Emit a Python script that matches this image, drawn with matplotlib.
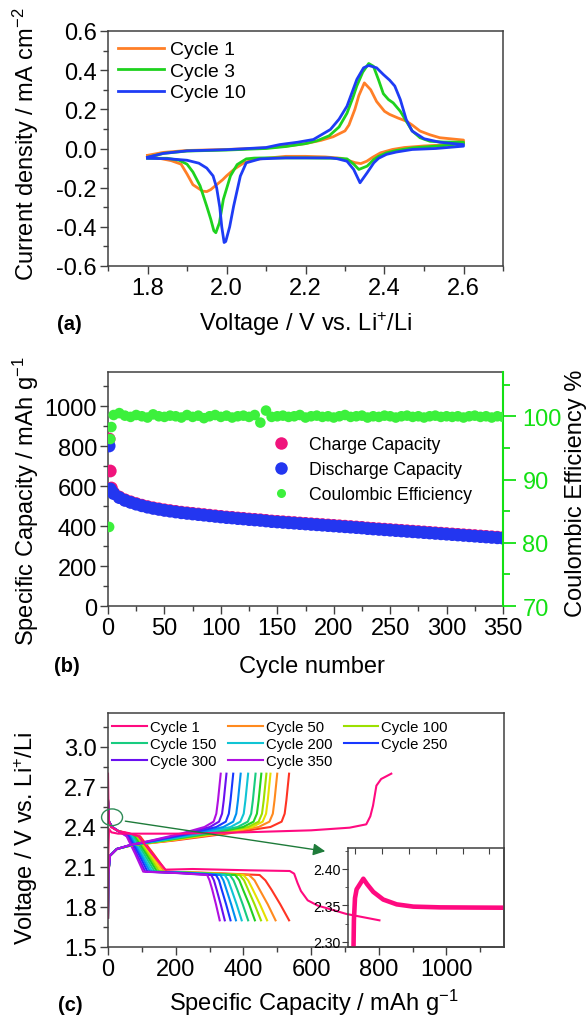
import matplotlib.pyplot as plt
import numpy as np
from matplotlib.patches import Ellipse
from matplotlib.lines import Line2D
from matplotlib.ticker import MultipleLocator

plt.rcParams['font.family'] = ['Liberation Sans', 'DejaVu Sans']
plt.rcParams['mathtext.fontset'] = 'custom'
plt.rcParams['mathtext.rm'] = 'Liberation Sans'
plt.rcParams['mathtext.it'] = 'Liberation Sans:italic'
plt.rcParams['mathtext.bf'] = 'Liberation Sans:bold'
plt.rcParams['axes.unicode_minus'] = False

# ---------------- (a) cyclic voltammetry ----------------
cv1_v = [1.80, 1.84, 1.90, 2.00, 2.10, 2.15, 2.20, 2.24, 2.27, 2.30, 2.31, 2.325, 2.335, 2.349, 2.365, 2.38,
         2.40, 2.413, 2.435, 2.455, 2.47, 2.49, 2.515, 2.54, 2.60,
         2.60, 2.55, 2.50, 2.45, 2.42, 2.39, 2.37, 2.355, 2.34, 2.325, 2.31, 2.29, 2.25, 2.20, 2.15, 2.10,
         2.07, 2.045, 2.02, 2.00, 1.99, 1.975, 1.96, 1.95, 1.94, 1.93, 1.915, 1.90, 1.885, 1.86, 1.83, 1.80]
cv1_i = [-0.035, -0.02, -0.01, -0.005, 0.003, 0.012, 0.025, 0.042, 0.06, 0.09, 0.12, 0.20, 0.27, 0.335, 0.30, 0.24,
         0.19, 0.174, 0.155, 0.14, 0.12, 0.089, 0.07, 0.055, 0.043,
         0.025, 0.018, 0.013, 0.005, -0.005, -0.022, -0.045, -0.065, -0.077, -0.072, -0.062, -0.05, -0.043, -0.04, -0.04, -0.05,
         -0.056, -0.072, -0.105, -0.14, -0.16, -0.185, -0.21, -0.22, -0.218, -0.205, -0.185, -0.13, -0.08, -0.062, -0.05, -0.04]

cv3_v = [1.80, 1.84, 1.90, 2.00, 2.10, 2.15, 2.20, 2.23, 2.26, 2.285, 2.305, 2.32, 2.33, 2.345, 2.36, 2.372, 2.385,
         2.397, 2.41, 2.422, 2.44, 2.455, 2.47, 2.49, 2.515, 2.55, 2.60,
         2.60, 2.55, 2.47, 2.43, 2.405, 2.385, 2.373, 2.356, 2.335, 2.322, 2.305, 2.28, 2.20, 2.10, 2.07, 2.05,
         2.027, 2.01, 1.992, 1.982, 1.973, 1.968, 1.96, 1.95, 1.933, 1.915, 1.90, 1.88, 1.85, 1.80]
cv3_i = [-0.045, -0.025, -0.013, -0.008, 0.0, 0.01, 0.025, 0.04, 0.065, 0.11, 0.18, 0.26, 0.32, 0.39, 0.434, 0.42, 0.35,
         0.28, 0.25, 0.233, 0.19, 0.14, 0.09, 0.055, 0.037, 0.033, 0.032,
         0.026, 0.015, 0.003, -0.01, -0.022, -0.04, -0.056, -0.09, -0.107, -0.08, -0.053, -0.05, -0.048, -0.048, -0.049, -0.053,
         -0.082, -0.14, -0.26, -0.38, -0.43, -0.42, -0.36, -0.295, -0.19, -0.12, -0.08, -0.06, -0.05, -0.05]

cv10_v = [1.80, 1.84, 1.90, 2.00, 2.10, 2.135, 2.18, 2.22, 2.263, 2.285, 2.305, 2.33, 2.347, 2.36, 2.38, 2.397,
          2.413, 2.426, 2.44, 2.455, 2.47, 2.50, 2.54, 2.60,
          2.60, 2.53, 2.47, 2.43, 2.405, 2.385, 2.373, 2.356, 2.338, 2.322, 2.305, 2.28, 2.263, 2.15, 2.085, 2.05,
          2.035, 2.018, 2.008, 1.998, 1.994, 1.988, 1.983, 1.975, 1.966, 1.95, 1.93, 1.90, 1.85, 1.80]
cv10_i = [-0.045, -0.025, -0.012, -0.006, 0.005, 0.02, 0.032, 0.046, 0.097, 0.15, 0.216, 0.353, 0.412, 0.424, 0.412, 0.378,
          0.349, 0.319, 0.25, 0.148, 0.089, 0.05, 0.032, 0.02,
          0.012, 0.0, -0.005, -0.018, -0.03, -0.05, -0.073, -0.124, -0.175, -0.107, -0.065, -0.052, -0.048, -0.048, -0.053, -0.073,
          -0.141, -0.295, -0.40, -0.475, -0.48, -0.40, -0.30, -0.20, -0.14, -0.10, -0.075, -0.06, -0.052, -0.05]

# ---------------- (b) cycling ----------------
cycles = [1, 2, 3] + list(range(5, 351, 5))
discharge = [800, 585, 575,
             562, 542, 528, 518, 509, 501, 494, 488, 483, 478, 474, 470, 466, 463, 460, 457, 454, 451, 448, 445,
             442, 440, 437, 435, 432, 430, 428, 425, 422, 420, 418, 416, 414, 412, 410, 408, 406, 404, 402, 400,
             398, 396, 394, 392, 390, 387, 385, 383, 381, 379, 377, 375, 373, 371, 369, 367, 365, 363, 361, 359,
             357, 355, 353, 351, 349, 347, 345, 343, 341, 339]
charge = [835, 675, 590,
          566, 545, 531, 521, 512, 504, 497, 491, 486, 481, 477, 473, 469, 466, 463, 460, 457, 454, 451, 448,
          445, 443, 440, 438, 435, 433, 431, 428, 425, 423, 421, 419, 417, 415, 413, 411, 409, 407, 405, 403,
          401, 399, 397, 395, 393, 390, 388, 386, 384, 382, 380, 378, 376, 374, 372, 370, 368, 366, 364, 362,
          360, 358, 356, 354, 352, 350, 348, 346, 344, 342]
efficiency = [82.5, 96.4, 98.3,
              100.2, 100.5, 100.1, 99.9, 100.2, 100.0, 99.8, 100.3, 100.0, 99.9,
              100.1, 100.0, 99.8, 100.2, 99.9, 100.1, 99.7, 100.0, 100.2, 99.9,
              100.1, 99.8, 100.0, 100.1, 99.9, 100.2, 99.0, 100.9, 99.9, 100.0,
              100.1, 99.9, 100.0, 100.2, 99.8, 100.0, 100.1, 99.9, 100.0, 99.8,
              100.0, 100.2, 99.9, 100.0, 100.1, 99.8, 100.0, 99.9, 100.1, 100.0,
              99.8, 100.0, 100.1, 99.9, 100.0, 99.8, 100.0, 100.1, 99.9, 100.0,
              99.9, 100.0, 99.8, 100.0, 100.1, 99.9, 100.0, 99.8, 100.0, 99.9]

# ---------------- (c) charge / discharge profiles ----------------
chg_v = [1.72, 2.05, 2.185, 2.235, 2.265, 2.30, 2.35, 2.40, 2.44, 2.50, 2.60, 2.80]
chg_q = [[0, 1, 6, 26, 65, 130, 215, 285, 312, 320, 325, 333],
         [0, 1, 6, 26, 66, 135, 226, 301, 328, 337, 342, 350],
         [0, 1, 6, 26, 67, 140, 240, 320, 348, 357, 362, 370],
         [0, 1, 6, 26, 68, 147, 255, 341, 370, 379, 384, 392],
         [0, 1, 6, 26, 69, 154, 270, 362, 391, 401, 406, 414],
         [0, 1, 6, 26, 70, 161, 285, 383, 413, 423, 428, 436],
         [0, 1, 6, 26, 71, 168, 298, 399, 430, 440, 445, 453],
         [0, 1, 6, 26, 72, 175, 310, 414, 445, 455, 460, 468],
         [0, 1, 6, 26, 73, 182, 320, 426, 457, 467, 472, 480],
         [0, 1, 6, 26, 74, 190, 333, 445, 477, 487, 492, 500],
         [0, 1, 6, 26, 75, 200, 350, 480, 513, 522, 527, 535]]
dis_v = [2.60, 2.44, 2.40, 2.37, 2.33, 2.20, 2.065, 2.055, 2.04, 2.00, 1.93, 1.82, 1.70]
dis_q = [[0, 3, 12, 30, 55, 80, 104, 200, 293, 300, 308, 319, 330],
         [0, 3, 12, 30, 58, 84, 110, 208, 305, 313, 321, 333, 345],
         [0, 3, 12, 30, 62, 90, 117, 218, 319, 328, 336, 349, 362],
         [0, 3, 12, 30, 66, 95, 124, 228, 332, 341, 350, 364, 378],
         [0, 3, 12, 30, 70, 100, 131, 238, 345, 355, 365, 380, 395],
         [0, 3, 12, 30, 74, 106, 138, 249, 360, 371, 382, 398, 414],
         [0, 3, 12, 30, 78, 112, 145, 260, 376, 388, 399, 417, 434],
         [0, 3, 12, 30, 82, 117, 152, 270, 389, 402, 414, 433, 452],
         [0, 3, 12, 30, 86, 122, 159, 280, 400, 414, 428, 449, 470],
         [0, 3, 12, 30, 90, 128, 166, 292, 417, 433, 448, 472, 495],
         [0, 3, 12, 30, 95, 134, 173, 310, 448, 465, 483, 509, 535]]
curve_colors = ['#B010E0', '#6A10F0', '#1838FF', '#0090F0', '#10C4D4', '#18CC80',
                '#22D022', '#9CE000', '#E6E000', '#FF8A1E', '#FF3424']
curve_labels = ['Cycle 350', 'Cycle 300', 'Cycle 250', None, 'Cycle 200', 'Cycle 150',
                None, 'Cycle 100', None, 'Cycle 50', None]

c1_chg_q = [0, 1, 2, 3, 10, 30, 200, 400, 600, 714, 763, 775, 783, 793, 807, 837]
c1_chg_v = [1.72, 2.20, 2.30, 2.385, 2.36, 2.35, 2.35, 2.36, 2.375, 2.395, 2.42, 2.48, 2.56, 2.71, 2.76, 2.80]
c1_dis_q = [0, 2, 8, 30, 60, 90, 130, 170, 250, 420, 537, 550, 560, 570, 590, 620, 655, 704, 802]
c1_dis_v = [2.80, 2.45, 2.40, 2.37, 2.355, 2.33, 2.20, 2.08, 2.085, 2.075, 2.07, 2.05, 1.98, 1.92, 1.85, 1.81,
            1.785, 1.748, 1.70]

inset_q = [-0.6, -0.4, 0.0, 0.6, 3.1, 4.5, 6.8, 10.5, 15.5, 21.7, 31.6, 45, 56]
inset_v = [2.28, 2.33, 2.36, 2.372, 2.3865, 2.379, 2.3685, 2.358, 2.3514, 2.3483, 2.3473, 2.347, 2.3468]

W, H = 588, 1020
SPINE = '#404040'


def fx(x):
    return x / W


def fy(y):
    return 1 - y / H


def box(x0, y0, x1, y1):
    return [fx(x0), fy(y1), (x1 - x0) / W, (y1 - y0) / H]


def style(ax, size=17):
    for s in ax.spines.values():
        s.set_color(SPINE)
        s.set_linewidth(1.1)
    ax.tick_params(which='both', direction='out', top=False, right=False, labelsize=size,
                   color=SPINE, pad=2)
    ax.tick_params(which='major', length=6, width=1)
    ax.tick_params(which='minor', length=3.5, width=1)


fig = plt.figure(figsize=(5.88, 10.2), dpi=100)

# ---- (a)
ax_a = fig.add_axes(box(108, 32, 503, 267))
ax_a.plot(cv1_v, cv1_i, color='#FF7F27', lw=2, label='Cycle 1')
ax_a.plot(cv3_v, cv3_i, color='#1ED21E', lw=2, label='Cycle 3')
ax_a.plot(cv10_v, cv10_i, color='#1E3CF5', lw=2, label='Cycle 10')
ax_a.set_xlim(1.7, 2.7)
ax_a.set_ylim(-0.6, 0.6)
ax_a.xaxis.set_major_locator(MultipleLocator(0.2))
ax_a.xaxis.set_minor_locator(MultipleLocator(0.1))
ax_a.yaxis.set_major_locator(MultipleLocator(0.2))
ax_a.yaxis.set_minor_locator(MultipleLocator(0.1))
ax_a.set_xticks([1.8, 2.0, 2.2, 2.4, 2.6])
style(ax_a)
ax_a.legend(loc='upper left', bbox_to_anchor=(0.0, 1.0), frameon=False, fontsize=14,
            handlelength=2.4, handletextpad=0.3, labelspacing=0.2, borderaxespad=0.1)

fig.text(fx(26), fy(144), 'Current density / mA cm$\\mathregular{^{-2}}$', rotation=90,
         ha='center', va='center', fontsize=17)
fig.text(fx(306), fy(324), 'Voltage / V vs. Li$\\mathregular{^{+}}$/Li', ha='center', va='center', fontsize=17)
fig.text(fx(69), fy(324), '(a)', ha='center', va='center', fontsize=14.5, fontweight='bold')

# ---- (b)
ax_b = fig.add_axes(box(108, 373, 503, 607))
ax_b.scatter(cycles, charge, s=85, color='#F0147C', edgecolors='none', zorder=3)
ax_b.scatter(cycles, discharge, s=85, color='#2336F0', edgecolors='none', zorder=4)
ax_b.set_xlim(0, 350)
ax_b.set_ylim(0, 1170)
ax_b.xaxis.set_major_locator(MultipleLocator(50))
ax_b.xaxis.set_minor_locator(MultipleLocator(25))
ax_b.yaxis.set_major_locator(MultipleLocator(200))
ax_b.yaxis.set_minor_locator(MultipleLocator(100))
style(ax_b)
ax_b.spines['right'].set_visible(False)

GREEN = '#14E014'
ax_b2 = ax_b.twinx()
ax_b2.scatter(cycles, efficiency, s=58, color='#3CF03C', edgecolors='none', zorder=3)
ax_b2.set_ylim(70, 107)
ax_b2.yaxis.set_major_locator(MultipleLocator(10))
ax_b2.yaxis.set_minor_locator(MultipleLocator(5))
for k in ['left', 'top', 'bottom']:
    ax_b2.spines[k].set_visible(False)
ax_b2.spines['right'].set_color(GREEN)
ax_b2.spines['right'].set_linewidth(1.5)
ax_b2.tick_params(axis='y', which='both', direction='out', colors=GREEN, labelcolor=GREEN,
                  labelsize=17, pad=5, width=1.3)
ax_b2.tick_params(axis='y', which='major', length=9)
ax_b2.tick_params(axis='y', which='minor', length=5)

handles = [Line2D([], [], ls='none', marker='o', ms=9, mfc='#F0147C', mec='none'),
           Line2D([], [], ls='none', marker='o', ms=9, mfc='#2336F0', mec='none'),
           Line2D([], [], ls='none', marker='o', ms=6.5, mfc='#3CF03C', mec='none')]
ax_b2.legend(handles, ['Charge Capacity', 'Discharge Capacity', 'Coulombic Efficiency'],
             loc='upper left', bbox_to_anchor=(0.407, 0.725), frameon=False, fontsize=12.7,
             handlelength=1.4, handletextpad=0.9, labelspacing=0.45, borderaxespad=0, borderpad=0)

fig.text(fx(26), fy(501), 'Specific Capacity / mAh g$\\mathregular{^{-1}}$', rotation=90,
         ha='center', va='center', fontsize=17)
fig.text(fx(576), fy(493), 'Coulombic Efficiency %', rotation=90, ha='center', va='center', fontsize=17)
fig.text(fx(312), fy(667), 'Cycle number', ha='center', va='center', fontsize=17)
fig.text(fx(67), fy(667), '(b)', ha='center', va='center', fontsize=14.5, fontweight='bold')

# ---- (c)
ax_c = fig.add_axes(box(108, 714, 504, 948))
handle_map = {}
for q, col, lab in reversed(list(zip(dis_q, curve_colors, curve_labels))):
    ax_c.plot(q, dis_v, color=col, lw=1.5)
for q, col, lab in reversed(list(zip(chg_q, curve_colors, curve_labels))):
    ln, = ax_c.plot(q, chg_v, color=col, lw=1.5)
    if lab:
        handle_map[lab] = ln
ln1, = ax_c.plot(c1_chg_q, c1_chg_v, color='#FF0A80', lw=1.5)
ax_c.plot(c1_dis_q, c1_dis_v, color='#FF0A80', lw=1.5)
handle_map['Cycle 1'] = ln1
ax_c.set_xlim(0, 1170)
ax_c.set_ylim(1.5, 3.255)
ax_c.xaxis.set_major_locator(MultipleLocator(200))
ax_c.xaxis.set_minor_locator(MultipleLocator(100))
ax_c.yaxis.set_major_locator(MultipleLocator(0.3))
ax_c.yaxis.set_minor_locator(MultipleLocator(0.15))
style(ax_c)

order = ['Cycle 1', 'Cycle 150', 'Cycle 300', 'Cycle 50', 'Cycle 200', 'Cycle 350', 'Cycle 100', 'Cycle 250']
ax_c.legend([handle_map[k] for k in order], order, ncol=3, loc='upper left', bbox_to_anchor=(0.0, 0.99),
            frameon=False, fontsize=10.7, handlelength=2.35, handletextpad=0.2, columnspacing=0.75,
            labelspacing=0.2, borderaxespad=0.1, borderpad=0.2)

ax_c.add_patch(Ellipse((12, 2.473), 62, 0.125, fill=False, edgecolor='#2E8B57', lw=1.0, clip_on=False, zorder=6))
ax_c.annotate('', xy=(650, 2.215), xytext=(43, 2.447),
              arrowprops=dict(arrowstyle='-|>', color='#1E7B3A', lw=1.0, mutation_scale=18))

fig.text(fx(26), fy(838), 'Voltage / V vs. Li$\\mathregular{^{+}}$/Li', rotation=90,
         ha='center', va='center', fontsize=17)
fig.text(fx(314), fy(1003), 'Specific Capacity / mAh g$\\mathregular{^{-1}}$', ha='center', va='center', fontsize=17)
fig.text(fx(70), fy(1006), '(c)', ha='center', va='center', fontsize=14.5, fontweight='bold')

# inset
ax_in = fig.add_axes(box(348, 849, 504, 948))
ax_in.patch.set_alpha(0)
ax_in.plot(inset_q, inset_v, color='#FF0A80', lw=3.3)
ax_in.set_xlim(-2.6, 55.4)
ax_in.set_ylim(2.293, 2.4286)
ax_in.xaxis.set_major_locator(MultipleLocator(10))
ax_in.yaxis.set_major_locator(MultipleLocator(0.05))
ax_in.yaxis.set_minor_locator(MultipleLocator(0.025))
for s in ax_in.spines.values():
    s.set_color(SPINE)
    s.set_linewidth(1.1)
ax_in.tick_params(axis='x', which='both', top=True, bottom=False, labelbottom=False, labeltop=False,
                  direction='in', length=4, color=SPINE)
ax_in.tick_params(axis='y', which='both', direction='out', labelsize=10.2, pad=1.5, color=SPINE)
ax_in.tick_params(axis='y', which='major', length=4)
ax_in.tick_params(axis='y', which='minor', length=2.5)
ax_in.yaxis.set_major_formatter(plt.FormatStrFormatter('%.2f'))

fig.savefig('out.png', dpi=100)
